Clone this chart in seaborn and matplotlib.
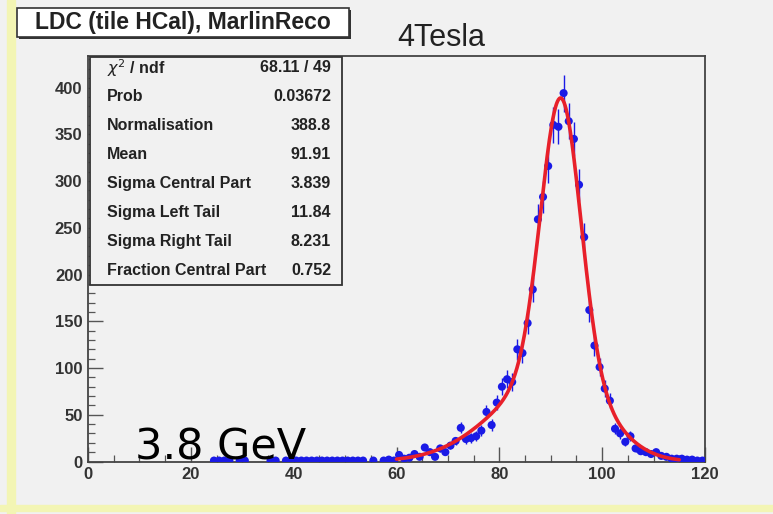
import numpy as np
import pandas as pd
import seaborn as sns
import matplotlib.pyplot as plt
from matplotlib.patches import Rectangle
from matplotlib.ticker import MultipleLocator

# Histogram: 1 GeV bins starting at 24 GeV
first_bin = 24
counts = [
    1, 1, 1, 1, 0, 1, 1, 0, 0, 0,      # 24-33
    0, 1, 1, 0, 1, 1, 1, 1, 1, 1,      # 34-43
    1, 1, 1, 1, 1, 1, 1, 1, 1, 1,      # 44-53
    0, 1, 0, 1, 2, 1,                  # 54-59
    7, 3, 4, 8, 5, 15, 10, 5, 14, 10,  # 60-69
    17, 22, 36, 24, 25, 27, 33, 53, 39, 63,        # 70-79
    80, 88, 85, 120, 116, 148, 184, 259, 283, 316,  # 80-89
    360, 358, 394, 364, 345, 296, 240, 162, 124, 101,  # 90-99
    78, 65, 35, 30, 21, 27, 14, 11, 10, 8,         # 100-109
    10, 6, 5, 3, 3, 3, 2, 2, 1, 1,                 # 110-119
]

# Fit result (asymmetric double Gaussian)
fit_norm = 388.8
fit_mean = 91.91
fit_sigma_core = 3.839
fit_sigma_left = 11.84
fit_sigma_right = 8.231
fit_frac_core = 0.752
fit_range = (60, 115)

stat_labels = ["$\\chi^2$ / ndf", "Prob", "Normalisation", "Mean",
               "Sigma Central Part", "Sigma Left Tail", "Sigma Right Tail",
               "Fraction Central Part"]
stat_values = ["68.11 / 49", "0.03672", "388.8", "91.91",
               "3.839", "11.84", "8.231", "0.752"]

x_ticks = [0, 20, 40, 60, 80, 100, 120]
y_ticks = [0, 50, 100, 150, 200, 250, 300, 350, 400]

title_text = "LDC (tile HCal), MarlinReco"
field_text = "4Tesla"
resolution_text = "3.8 GeV"

sns.set_theme(style="ticks")
plt.rcParams['font.family'] = ['Liberation Sans', 'DejaVu Sans']

W, H = 773, 514
bg = "#f1f1f1"
fig = plt.figure(figsize=(W / 100, H / 100), dpi=100, facecolor=bg)


def fx(px):
    return px / W


def fy(py):
    return 1 - py / H


# slide frame strips
fig.patches.append(Rectangle((fx(7), 0), fx(8), 1, transform=fig.transFigure,
                             color="#f3f5b4", zorder=0))
fig.patches.append(Rectangle((0, fy(511)), 1, 6 / H, transform=fig.transFigure,
                             color="#f3f5b4", zorder=0))

ax = fig.add_axes([fx(88), fy(461.5), fx(705) - fx(88), fy(56) - fy(461.5)])
ax.set_facecolor(bg)

edges = first_bin + np.arange(len(counts))
df = pd.DataFrame({"x": edges + 0.5, "n": counts})
df = df[df["n"] > 0]
err = np.sqrt(df["n"].to_numpy())

ax.vlines(df["x"], df["n"] - err, df["n"] + err, color="#1a1ae6", lw=1.0, zorder=3)
sns.scatterplot(data=df, x="x", y="n", color="#1a1ae6", s=34, edgecolor="none",
                zorder=3, ax=ax, legend=False)


def fit_curve(x):
    d = x - fit_mean
    s_tail = np.where(d < 0, fit_sigma_left, fit_sigma_right)
    core = fit_frac_core * np.exp(-d ** 2 / (2 * fit_sigma_core ** 2))
    tail = (1 - fit_frac_core) * np.exp(-d ** 2 / (2 * s_tail ** 2))
    return fit_norm * (core + tail)


xs = np.linspace(fit_range[0], fit_range[1], 600)
sns.lineplot(x=xs, y=fit_curve(xs), color="#e8202a", lw=2.6, zorder=4, ax=ax)

ax.set_xlim(0, 120)
ax.set_ylim(0, 433.7)
ax.set_xticks(x_ticks)
ax.set_yticks(y_ticks)
ax.xaxis.set_minor_locator(MultipleLocator(5))
ax.yaxis.set_minor_locator(MultipleLocator(10))
ax.tick_params(which="both", direction="in", top=False, right=False, color="#555555")
ax.tick_params(which="major", length=11, width=1.0, labelsize=12, labelcolor="#333333", pad=4)
ax.tick_params(which="minor", length=5, width=0.9)
for lab in ax.get_xticklabels() + ax.get_yticklabels():
    lab.set_fontweight("bold")
for sp in ax.spines.values():
    sp.set_color("#444444")
    sp.set_linewidth(1.3)
ax.set_xlabel("")
ax.set_ylabel("")

# statistics box
box = Rectangle((fx(90), fy(285)), fx(342) - fx(90), fy(57) - fy(285),
                transform=fig.transFigure, facecolor=bg, edgecolor="#333333",
                lw=1.3, zorder=5)
fig.patches.append(box)
row_y0, row_dy = 68, 28.9
for i, (lab, val) in enumerate(zip(stat_labels, stat_values)):
    yy = fy(row_y0 + i * row_dy)
    fig.text(fx(107), yy, lab, ha="left", va="center", fontsize=11.5,
             fontweight="bold", color="#222222", zorder=6)
    fig.text(fx(331), yy, val, ha="right", va="center", fontsize=11.5,
             fontweight="bold", color="#222222", zorder=6)

# title box with shadow
fig.patches.append(Rectangle((fx(19), fy(39)), fx(332), 29 / H, transform=fig.transFigure,
                             facecolor="#333333", edgecolor="none", zorder=5))
fig.patches.append(Rectangle((fx(17), fy(37)), fx(332), 29 / H, transform=fig.transFigure,
                             facecolor="white", edgecolor="#333333", lw=1.2, zorder=6))
fig.text(fx(183), fy(23), title_text, ha="center", va="center", fontsize=16.5,
         fontweight="bold", color="#222222", zorder=7)

fig.text(fx(397), fy(46), field_text, ha="left", va="baseline", fontsize=22,
         color="#222222")
fig.text(fx(135), fy(459), resolution_text, ha="left", va="baseline", fontsize=31,
         color="black", family=["DejaVu Sans"], zorder=8)

fig.savefig("out.png", dpi=100, facecolor=bg)
